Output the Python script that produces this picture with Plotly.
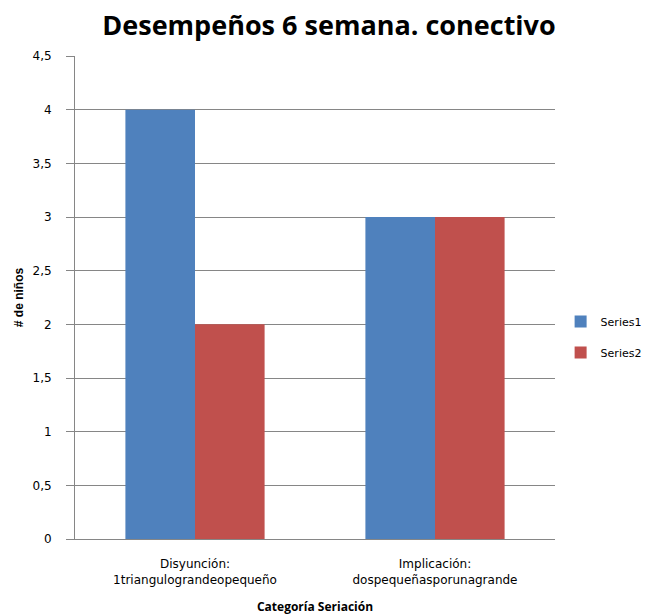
import plotly.graph_objects as go

categories = ["Disyunción:<br>1triangulograndeopequeño", "Implicación:<br>dospequeñasporunagrande"]
series1 = [4, 3]
series2 = [2, 3]
y_ticks = [0, 0.5, 1, 1.5, 2, 2.5, 3, 3.5, 4, 4.5]
y_tick_labels = ["0", "0,5", "1", "1,5", "2", "2,5", "3", "3,5", "4", "4,5"]

grid = "#868686"
tick_font = dict(family="DejaVu Sans", size=12, color="#000000")

fig = go.Figure()
fig.add_trace(go.Bar(name="Series1", x=categories, y=series1, marker_color="#4F81BD",
                     marker_line_width=0, legendgroup="s1"))
fig.add_trace(go.Bar(name="Series2", x=categories, y=series2, marker_color="#C0504D",
                     marker_line_width=0, legendgroup="s2"))

fig.update_layout(
    width=658, height=615,
    paper_bgcolor="white", plot_bgcolor="white",
    margin=dict(l=75, r=103, t=56, b=76, autoexpand=False),
    barmode="group", bargap=0.42, bargroupgap=0,
    title=dict(text="<b>Desempeños 6 semana. conectivo</b>", x=0.5, xref="container",
               y=0.958, yanchor="middle",
               font=dict(family="Open Sans", size=27, color="#000000")),
    legend=dict(xref="container", yref="container", x=0.852, y=0.452,
                xanchor="left", yanchor="middle", itemwidth=30,
                font=dict(family="DejaVu Sans", size=11, color="#000000"),
                tracegroupgap=12, traceorder="grouped"),
    showlegend=True,
)

fig.update_yaxes(
    range=[0, 4.5], tickvals=y_ticks, ticktext=y_tick_labels,
    showgrid=True, gridcolor=grid, gridwidth=1,
    showline=True, linecolor=grid, linewidth=1,
    ticks="outside", ticklen=8, tickcolor=grid,
    tickfont=tick_font, zeroline=False, ticklabelstandoff=12,
    title=dict(text="<b># de niños</b>", font=dict(family="Liberation Sans", size=12, color="#000000"),
               standoff=6),
)
fig.update_xaxes(
    showline=True, linecolor=grid, linewidth=1, ticks="",
    tickfont=tick_font, ticklabelstandoff=14,
    title=dict(text="<b>Categoría Seriación</b>", font=dict(family="Open Sans", size=12, color="#000000"),
               standoff=16),
)

fig.write_html("out.html")
